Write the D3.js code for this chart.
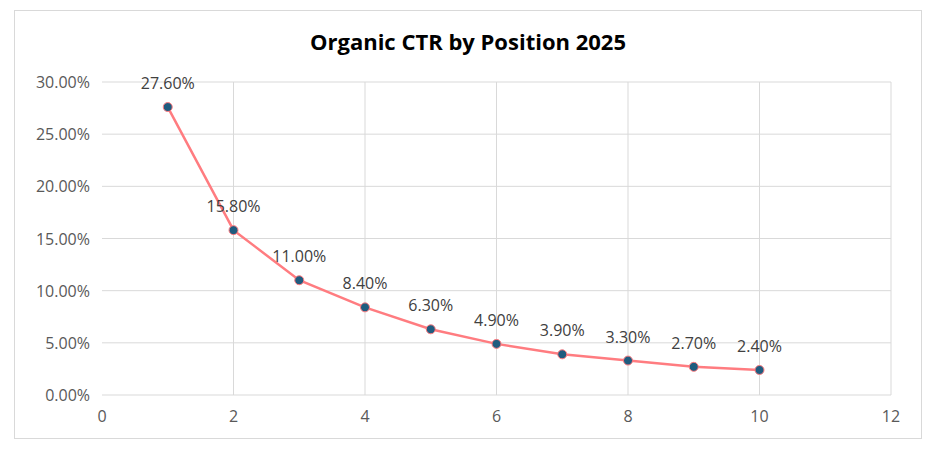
<!DOCTYPE html>
<html><head><meta charset="utf-8">
<script src="https://cdn.jsdelivr.net/npm/d3@7"></script>
<style>body{margin:0;background:#fff;font-family:"Open Sans","Liberation Sans",Arial,sans-serif}</style>
</head><body>
<svg id="c" width="937" height="449"></svg>
<script>
const positions = [1,2,3,4,5,6,7,8,9,10];
const ctr = [0.276,0.158,0.110,0.084,0.063,0.049,0.039,0.033,0.027,0.024];
const xTicks = [0,2,4,6,8,10,12];
const yTicks = [0,0.05,0.10,0.15,0.20,0.25,0.30];
const title = "Organic CTR by Position 2025";

const svg = d3.select("#c");
svg.append("rect").attr("x",14.5).attr("y",10.5).attr("width",907).attr("height",428)
  .attr("fill","#fff").attr("stroke","#d9d9d9");
const x = d3.scaleLinear().domain([0,12]).range([102,891]);
const y = d3.scaleLinear().domain([0,0.30]).range([395,82]);

svg.append("g").selectAll("line").data(yTicks).join("line")
  .attr("x1",x(0)).attr("x2",x(12)).attr("y1",d=>y(d)).attr("y2",d=>y(d))
  .attr("stroke","#d9d9d9").attr("stroke-width",1);
svg.append("g").selectAll("line").data(xTicks.slice(1)).join("line")
  .attr("x1",d=>x(d)).attr("x2",d=>x(d)).attr("y1",y(0)).attr("y2",y(0.30))
  .attr("stroke","#d9d9d9").attr("stroke-width",1);

svg.append("g").selectAll("text").data(yTicks).join("text")
  .attr("x",x(0)-12).attr("y",d=>y(d)+6).attr("text-anchor","end")
  .attr("font-size",16).attr("fill","#595959").text(d=>(d*100).toFixed(2)+"%");
svg.append("g").selectAll("text").data(xTicks).join("text")
  .attr("x",d=>x(d)).attr("y",y(0)+27).attr("text-anchor","middle")
  .attr("font-size",16).attr("fill","#595959").text(d=>d);

svg.append("text").attr("x",468).attr("y",50).attr("text-anchor","middle")
  .attr("font-size",22).attr("font-weight","bold").attr("fill","#000").text(title);

const data = positions.map((p,i)=>({p,v:ctr[i]}));
svg.append("path").datum(data)
  .attr("d",d3.line().x(d=>x(d.p)).y(d=>y(d.v)))
  .attr("fill","none").attr("stroke","#ff7c80").attr("stroke-width",2.5);
svg.append("g").selectAll("circle").data(data).join("circle")
  .attr("cx",d=>x(d.p)).attr("cy",d=>y(d.v)).attr("r",4.5)
  .attr("fill","#1f5c7f").attr("stroke","#ff7c80").attr("stroke-width",1);
svg.append("g").selectAll("text").data(data).join("text")
  .attr("x",d=>x(d.p)).attr("y",d=>y(d.v)-18).attr("text-anchor","middle")
  .attr("font-size",16).attr("fill","#404040").text(d=>(d.v*100).toFixed(2)+"%");
</script>
</body></html>
